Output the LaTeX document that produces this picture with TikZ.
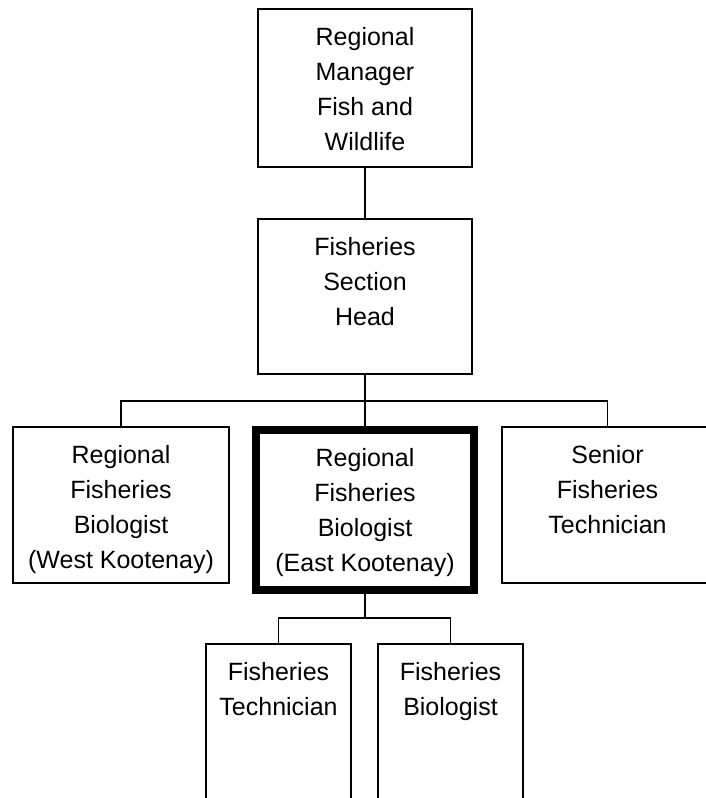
\documentclass[tikz,border=0pt]{standalone}
\usepackage{fontspec}
\setmainfont{Liberation Sans}
\usetikzlibrary{positioning}

\begin{document}
\begin{tikzpicture}[x=1pt,y=-1pt,line width=1.4pt,
  box/.style={draw,rectangle,inner sep=0pt},
  boldbox/.style={box,line width=7.5pt},
  txt/.style={anchor=north,inner sep=0pt,align=center,font=\fontsize{25}{35}\selectfont}]
\useasboundingbox (0,0) rectangle (706,798);
\clip (0,0) rectangle (706,798);
\node[box,minimum width=214pt,minimum height=158pt] at (365,88) (mgr) {};
\node[box,minimum width=214pt,minimum height=155pt] at (365,296.5) (head) {};
\node[box,minimum width=216pt,minimum height=156pt] at (121,505) (west) {};
\node[boldbox,minimum width=218pt,minimum height=160pt] at (365,510) (east) {};
\node[box,minimum width=211pt,minimum height=156pt] at (607.5,505) (senior) {};
\node[box,minimum width=145pt,minimum height=200pt] at (278.5,744) (tech) {};
\node[box,minimum width=145pt,minimum height=200pt] at (450.5,744) (bio) {};
\node[txt] at ([yshift=-18pt]mgr.north) (mgr-t) {Regional\\Manager\\Fish and\\Wildlife};
\node[txt] at ([yshift=-18pt]head.north) (head-t) {Fisheries\\Section\\Head};
\node[txt] at ([yshift=-18pt]west.north) (west-t) {Regional\\Fisheries\\Biologist\\(West Kootenay)};
\node[txt] at ([yshift=-21.5pt]east.north) (east-t) {Regional\\Fisheries\\Biologist\\(East Kootenay)};
\node[txt] at ([yshift=-18pt]senior.north) (senior-t) {Senior\\Fisheries\\Technician};
\node[txt] at ([yshift=-18pt]tech.north) (tech-t) {Fisheries\\Technician};
\node[txt] at ([yshift=-18pt]bio.north) (bio-t) {Fisheries\\Biologist};
\coordinate (split) at (365,401);
\coordinate (split2) at (365,618);
\draw (mgr) -- (head);
\draw (head) -- (east);
\draw (west.north) |- (split) -| (senior.north);
\draw (east) -- (split2);
\draw (tech.north) |- (split2) -| (bio.north);
\end{tikzpicture}
\end{document}
